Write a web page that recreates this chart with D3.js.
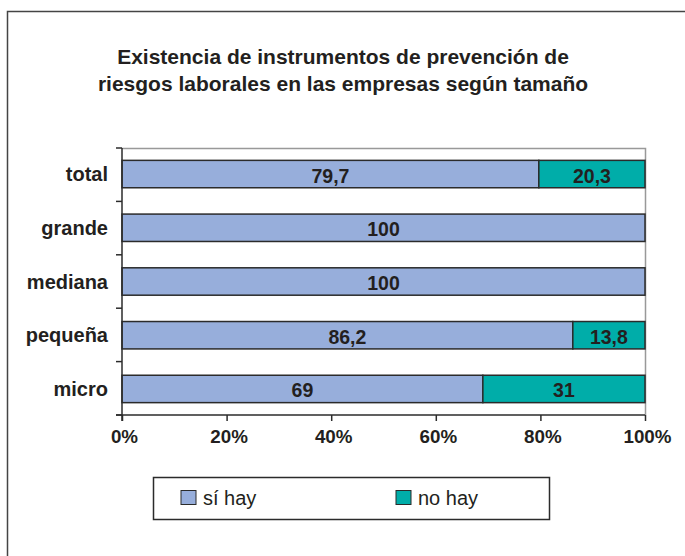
<!DOCTYPE html>
<html>
<head>
<meta charset="utf-8">
<script src="https://cdn.jsdelivr.net/npm/d3@7"></script>
<style>
  html, body { margin: 0; padding: 0; background: #fff; }
  svg { display: block; font-family: "Liberation Sans", Arial, sans-serif; }
</style>
</head>
<body>
<svg id="chart" width="685" height="556"></svg>
<script>
// Company size categories, top to bottom
const categories = ["total", "grande", "mediana", "pequeña", "micro"];
// Percentage of companies with prevention instruments
const siHay = [79.7, 100, 100, 86.2, 69];
// Percentage without them
const noHay = [20.3, 0, 0, 13.8, 31];
const seriesNames = ["sí hay", "no hay"];
const seriesColors = ["#97AEDB", "#00ADA9"];
const xTicks = [0, 20, 40, 60, 80, 100];
const titleLines = [
  "Existencia de instrumentos de prevención de",
  "riesgos laborales en las empresas según tamaño"
];

const ink = "#231f20";
const svg = d3.select("#chart");

// Outer frame
svg.append("rect")
  .attr("x", 7.5).attr("y", 11.5)
  .attr("width", 700).attr("height", 600)
  .attr("fill", "none").attr("stroke", "#444").attr("stroke-width", 1.5);

// Title
svg.append("g").selectAll("text").data(titleLines).join("text")
  .attr("x", 343).attr("y", (d, i) => 64 + i * 27)
  .attr("text-anchor", "middle")
  .attr("font-size", 21).attr("font-weight", "bold").attr("fill", ink)
  .text(d => d);

const plot = { left: 122, right: 645, top: 148, bottom: 415 };

const x = d3.scaleLinear().domain([0, 100]).range([plot.left, plot.right]);
const y = d3.scaleBand().domain(categories).range([plot.top, plot.bottom])
  .paddingInner(0.49).paddingOuter(0.23);

// Plot area border (top and right)
svg.append("path")
  .attr("d", `M${plot.left},${plot.top + 0.5}H${plot.right + 0.5}V${plot.bottom}`)
  .attr("fill", "none").attr("stroke", "#999").attr("stroke-width", 1.5);

// Stacked data
const rows = categories.map((c, i) => ({ cat: c, si: siHay[i], no: noHay[i] }));
const stack = d3.stack().keys(["si", "no"])(rows);

const layers = svg.append("g").selectAll("g").data(stack).join("g")
  .attr("fill", (d, i) => seriesColors[i]);

layers.selectAll("rect").data(d => d.filter(s => s[1] - s[0] > 0)).join("rect")
  .attr("x", d => x(d[0]))
  .attr("y", d => y(d.data.cat))
  .attr("width", d => x(d[1]) - x(d[0]))
  .attr("height", y.bandwidth())
  .attr("stroke", "#2b2b2b").attr("stroke-width", 1.5);

// Value labels (comma decimal separator)
const fmt = v => String(+v.toFixed(1)).replace(".", ",");
layers.selectAll("text").data(d => d.filter(s => s[1] - s[0] > 0)).join("text")
  .attr("x", d => (x(d[0]) + x(d[1])) / 2)
  .attr("y", d => y(d.data.cat) + y.bandwidth() / 2 + 8.5)
  .attr("text-anchor", "middle")
  .attr("font-size", 19.5).attr("font-weight", "bold").attr("fill", ink)
  .text(d => fmt(d[1] - d[0]));

// Y axis (ticks sit between bands)
const yAxis = svg.append("g").attr("transform", `translate(${plot.left},0)`);
const bandEdges = d3.range(categories.length + 1)
  .map(i => plot.top + i * (plot.bottom - plot.top) / categories.length);
yAxis.append("line")
  .attr("x1", 0).attr("x2", 0).attr("y1", plot.top).attr("y2", plot.bottom + 6)
  .attr("stroke", "#2b2b2b").attr("stroke-width", 1.5);
yAxis.selectAll("line.tick").data(bandEdges).join("line").attr("class", "tick")
  .attr("x1", -6).attr("x2", 0).attr("y1", d => d).attr("y2", d => d)
  .attr("stroke", "#2b2b2b").attr("stroke-width", 1.5);
yAxis.selectAll("text").data(categories).join("text")
  .attr("x", -14)
  .attr("y", d => y(d) + y.bandwidth() / 2 + 7)
  .attr("text-anchor", "end")
  .attr("font-size", 20).attr("font-weight", "bold").attr("fill", ink)
  .text(d => d);

// X axis
const xAxis = svg.append("g").attr("transform", `translate(0,${plot.bottom})`)
  .call(d3.axisBottom(x).tickValues(xTicks).tickSize(6).tickPadding(9).tickFormat(d => d + "%"));
xAxis.select(".domain").attr("stroke", "#2b2b2b").attr("stroke-width", 1.5)
  .attr("d", `M${plot.left - 6},0H${plot.right}`);
xAxis.selectAll(".tick line").attr("stroke", "#2b2b2b").attr("stroke-width", 1.5);
xAxis.selectAll(".tick text")
  .attr("dx", 2)
  .attr("font-size", 18.8).attr("font-weight", "bold").attr("fill", ink)
  .attr("font-family", "Liberation Sans, Arial, sans-serif");

// Legend
const legend = svg.append("g");
legend.append("rect")
  .attr("x", 153.5).attr("y", 477.5).attr("width", 396).attr("height", 42)
  .attr("fill", "#fff").attr("stroke", "#2b2b2b").attr("stroke-width", 1.5);
const legendX = [181, 396];
const items = legend.selectAll("g.item").data(seriesNames).join("g").attr("class", "item")
  .attr("transform", (d, i) => `translate(${legendX[i]},490.5)`);
items.append("rect")
  .attr("width", 15).attr("height", 14)
  .attr("fill", (d, i) => seriesColors[i]).attr("stroke", "#2b2b2b").attr("stroke-width", 1);
items.append("text")
  .attr("x", 22).attr("y", 14.5)
  .attr("font-size", 20).attr("fill", ink)
  .text(d => d);
</script>
</body>
</html>
